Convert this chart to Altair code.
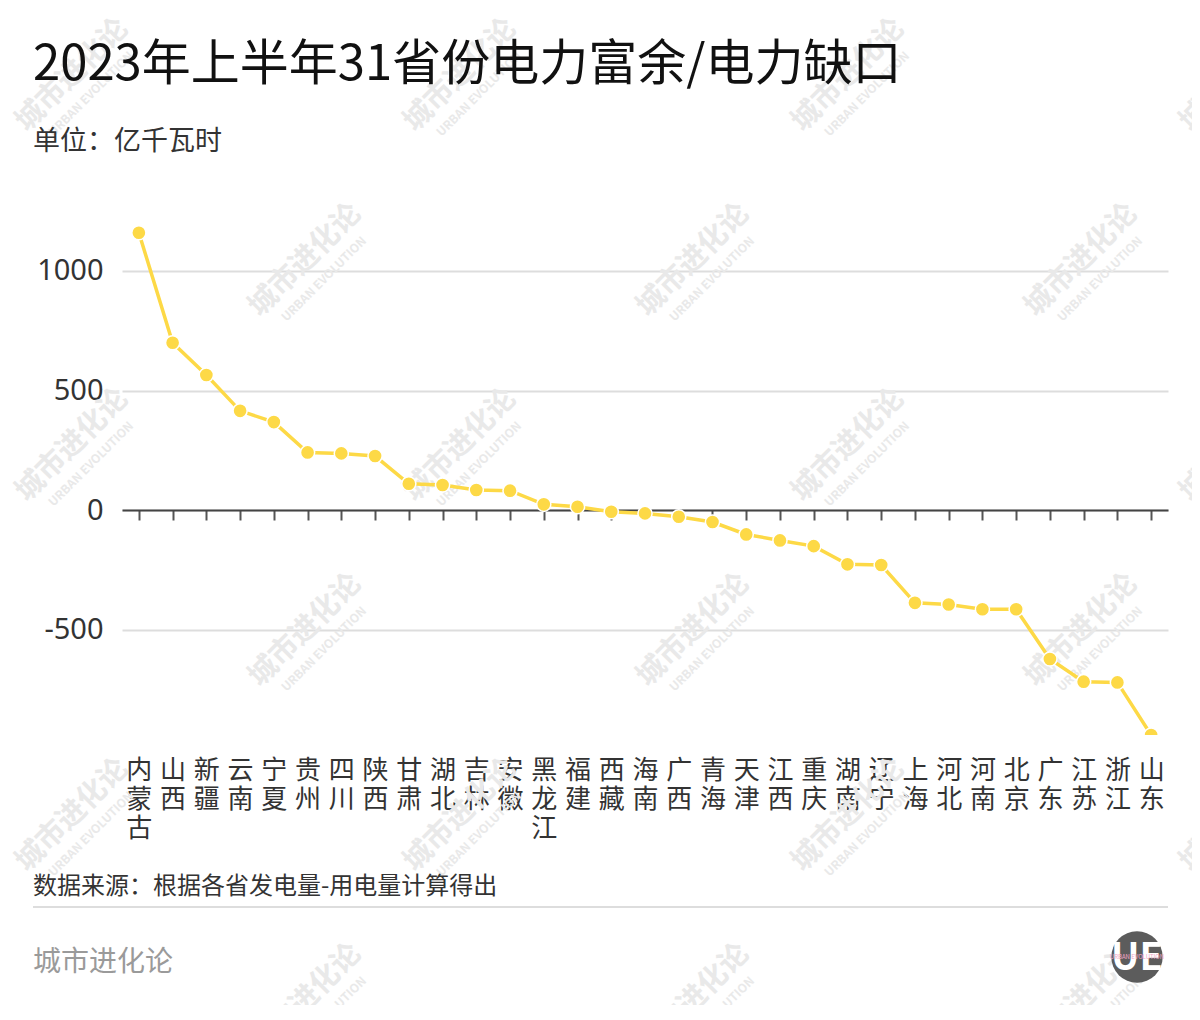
import altair as alt
import pandas as pd

provinces = ["内蒙古", "山西", "新疆", "云南", "宁夏", "贵州", "四川", "陕西", "甘肃", "湖北",
             "吉林", "安徽", "黑龙江", "福建", "西藏", "海南", "广西", "青海", "天津", "江西",
             "重庆", "湖南", "辽宁", "上海", "河北", "河南", "北京", "广东", "江苏", "浙江", "山东"]
values = [1160, 700, 565, 415, 368, 241, 237, 226, 110, 105,
          84, 81, 24, 14, -7, -14, -28, -50, -102, -127,
          -151, -227, -230, -388, -395, -415, -415, -623, -718, -721, -941]
y_ticks = [-500, 0, 500, 1000]

title_text = "2023年上半年31省份电力富余/电力缺口"
subtitle_text = "单位：亿千瓦时"
source_text = "数据来源：根据各省发电量-用电量计算得出"
footer_text = "城市进化论"

FONT = "Noto Sans CJK SC"
YELLOW = "#FDD946"
W, H = 1046, 535
X0, Y0 = 122, 200  # page position of plot origin

df = pd.DataFrame({"province": provinces, "value": values})

xenc_axis = alt.X("province:N", sort=provinces, title=None,
                  axis=alt.Axis(orient="bottom", offset=-225, labels=False, grid=False,
                                domainColor="#444", domainWidth=2,
                                tickColor="#555", tickWidth=2, tickSize=10))
xenc_labels = alt.X("province:N", sort=provinces, title=None,
                    axis=alt.Axis(orient="bottom", domain=False, ticks=False, grid=False,
                                  labelAngle=0, labelFontSize=26, labelColor="#333",
                                  labelFont=FONT, labelBaseline="top", labelPadding=22,
                                  labelLineHeight=29,
                                  labelExpr="split(datum.label, '')"))
yscale = alt.Scale(domain=[-941, 1297], nice=False, zero=False)
yaxis = alt.Axis(values=y_ticks, domain=False, ticks=False, grid=True,
                 gridColor="#dddddd", gridWidth=2, labelFontSize=29,
                 labelColor="#333", labelFont="Noto Sans", labelPadding=19,
                 labelExpr="'' + datum.value")
yenc = alt.Y("value:Q", scale=yscale, title=None, axis=yaxis)

line = alt.Chart(df).mark_line(color=YELLOW, strokeWidth=3.5, clip=True).encode(
    x=xenc_axis, y=yenc,
)
points = alt.Chart(df).mark_point(filled=True, color=YELLOW, size=200, opacity=1,
                                  stroke="white", strokeWidth=1.5, clip=True).encode(
    x=xenc_labels, y=yenc,
)


def txt(s, px, py, size, color, weight="normal", align="left", angle=0, baseline="alphabetic"):
    return alt.Chart(pd.DataFrame({"t": [s]})).mark_text(
        font=FONT, fontSize=size, color=color, fontWeight=weight, align=align,
        baseline=baseline, angle=angle
    ).encode(text="t:N", x=alt.value(px - X0), y=alt.value(py - Y0))


# faint watermarks
wm_layers = []
for r in range(6):
    cy = 75 + r * 185
    off = 72 if r % 2 == 0 else 305
    for c in range(4):
        cx = off + c * 388
        if cx > 1260:
            continue
        wm_layers.append(txt("城市进化论", cx, cy, 29, "#e9e9e9", "bold", "center", 315, "middle"))
        wm_layers.append(txt("URBAN EVOLUTION", cx + 19, cy + 19, 12, "#e9e9e9", "bold", "center", 315, "middle"))

title = txt(title_text, 33, 80, 49, "#111")
subtitle = txt(subtitle_text, 33, 150, 27, "#333")
source = txt(source_text, 33, 894, 24, "#333")
footer = txt(footer_text, 33, 971, 28, "#9a9a9a")

divider = alt.Chart(pd.DataFrame({"a": [0]})).mark_rule(color="#dddddd", strokeWidth=2).encode(
    x=alt.value(33 - X0), x2=alt.value(1168 - X0), y=alt.value(907 - Y0))

logo_circle = alt.Chart(pd.DataFrame({"a": [0]})).mark_circle(
    color="#5c5c5c", size=2640, opacity=1).encode(
    x=alt.value(1137 - X0), y=alt.value(957 - Y0))
logo_ue = txt("UE", 1137, 959, 38, "white", "bold", "center", 0, "middle")
logo_small = txt("URBAN EVOLUTION", 1137, 957, 6, "#f2a7c8", "normal", "center", 0, "middle")

chart = alt.layer(
    *wm_layers, line, points, title, subtitle, source, footer, divider,
    logo_circle, logo_ue, logo_small
).resolve_axis(x="independent").properties(
    width=W, height=H,
    autosize=alt.AutoSizeParams(type="none"),
    padding={"left": X0 - 8, "top": Y0 - 8, "right": 1200 - 16 - W - (X0 - 8), "bottom": 270},
).configure(font=FONT).configure_view(stroke=None)

chart.save("out.html", embed_options={"renderer": "svg", "actions": False})
